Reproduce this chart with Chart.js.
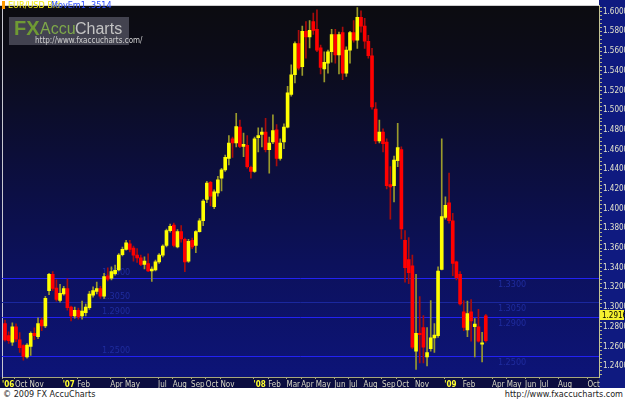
<!DOCTYPE html>
<html><head><meta charset="utf-8">
<script src="https://cdn.jsdelivr.net/npm/chart.js@4.4.1/dist/chart.umd.min.js"></script>
<style>
html,body{margin:0;padding:0;background:#fff;}
#wrap{position:relative;width:625px;height:400px;overflow:hidden;font-family:"Liberation Sans Narrow","DejaVu Sans Condensed","Liberation Sans",Arial,sans-serif;}
#box{position:absolute;left:0;top:0;width:625px;height:388px;}
canvas{display:block;}
.t{position:absolute;white-space:nowrap;line-height:1;}
#mark{position:absolute;left:2px;top:1px;width:3px;height:8px;background:#ff9c00;}
#title{left:8px;top:1px;font-size:9px;color:#f2ea10;}
#mov{left:51px;top:1px;font-size:9px;color:#3050ff;}
#logo{position:absolute;left:9px;top:17px;width:120px;height:28px;background:rgba(78,78,90,0.85);}
#fx{left:5px;top:1px;font-family:"Liberation Sans",Arial,sans-serif;font-weight:bold;font-size:20px;color:#6f9a34;}
#accu{left:31px;top:4px;font-family:"Liberation Sans",Arial,sans-serif;font-size:16px;color:#7ea84a;}
#charts{left:66px;top:4px;font-family:"Liberation Sans",Arial,sans-serif;font-size:16px;color:#c4c4c4;}
#url{left:26px;top:20px;font-size:8px;color:#d0d0d0;}
#foot{position:absolute;left:0;top:388px;width:625px;height:12px;background:#fff;}
#copy{left:3px;top:2px;font-size:9px;color:#222;}
#site{right:2px;top:2px;font-size:9px;color:#222;}
</style></head>
<body>
<div id="wrap">
  <div id="box"><canvas id="c" width="625" height="388"></canvas></div>
  <div id="mark"></div>
  <div class="t" id="title">EUR/USD Bid</div>
  <div class="t" id="mov">MovEm1 .3514</div>
  <div id="logo">
    <div class="t" id="fx">FX</div>
    <div class="t" id="accu">Accu</div>
    <div class="t" id="charts">Charts</div>
    <div class="t" id="url">http://www.fxaccucharts.com/</div>
  </div>
  <div id="foot">
    <div class="t" id="copy">© 2009 FX AccuCharts</div>
    <div class="t" id="site">http://www.fxaccucharts.com</div>
  </div>
</div>
<script>
// ---- data (weekly EUR/USD bid candles, first week starting Monday 2006-09-11) ----
const firstWeek = '2006-09-11';
const openV = [1.2833,1.2710,1.2643,1.2800,1.2667,1.2610,1.2493,1.2600,1.2733,1.2700,1.2867,1.2810,1.3167,1.3333,1.3193,1.3067,1.3133,1.3187,1.3000,1.2910,1.2967,1.2910,1.2943,1.2993,1.3120,1.3160,1.3187,1.3110,1.3317,1.3293,1.3340,1.3377,1.3533,1.3587,1.3643,1.3600,1.3527,1.3500,1.3433,1.3443,1.3367,1.3377,1.3460,1.3527,1.3627,1.3777,1.3833,1.3610,1.3767,1.3687,1.3467,1.3677,1.3627,1.3767,1.3877,1.4093,1.4267,1.4020,1.4160,1.4310,1.4393,1.4510,1.4710,1.4667,1.4827,1.4633,1.4643,1.4420,1.4377,1.4720,1.4753,1.4777,1.4600,1.4677,1.4800,1.4510,1.4677,1.4827,1.5160,1.5360,1.5677,1.5443,1.5800,1.5743,1.5900,1.5820,1.5633,1.5420,1.5477,1.5593,1.5767,1.5560,1.5787,1.5377,1.5610,1.5787,1.5710,1.5943,1.5853,1.5700,1.5553,1.5010,1.4687,1.4777,1.4677,1.4243,1.4233,1.4487,1.4600,1.3677,1.3483,1.3420,1.2553,1.2733,1.2793,1.2493,1.2577,1.2687,1.2710,1.3383,1.3910,1.4060,1.3877,1.3460,1.3333,1.2953,1.2767,1.2953,1.2800,1.2800,1.2623,1.2910];
const highV = [1.2867,1.2750,1.2840,1.2830,1.2740,1.2620,1.2630,1.2750,1.2790,1.2890,1.2890,1.3110,1.3343,1.3360,1.3277,1.3230,1.3210,1.3287,1.3010,1.3000,1.2990,1.3060,1.3030,1.3160,1.3207,1.3253,1.3210,1.3343,1.3400,1.3410,1.3427,1.3543,1.3610,1.3677,1.3677,1.3620,1.3593,1.3527,1.3510,1.3540,1.3410,1.3477,1.3543,1.3633,1.3793,1.3843,1.3853,1.3787,1.3827,1.3700,1.3687,1.3700,1.3777,1.3900,1.4093,1.4277,1.4277,1.4190,1.4327,1.4410,1.4543,1.4743,1.4727,1.4967,1.4900,1.4767,1.4743,1.4433,1.4727,1.4820,1.4820,1.4917,1.4727,1.4953,1.4853,1.4710,1.4860,1.5243,1.5460,1.5693,1.5810,1.5853,1.5900,1.5910,1.5987,1.6020,1.5660,1.5593,1.5610,1.5820,1.5820,1.5793,1.5843,1.5643,1.5800,1.5910,1.6043,1.6010,1.5933,1.5760,1.5627,1.5077,1.4900,1.4810,1.4710,1.4427,1.4533,1.4867,1.4627,1.3777,1.3707,1.3527,1.3333,1.3107,1.2913,1.2793,1.3067,1.2833,1.3410,1.4710,1.4120,1.4360,1.3953,1.3467,1.3360,1.3067,1.3060,1.3077,1.2883,1.2977,1.2743,1.2927];
const lowV = [1.2653,1.2630,1.2610,1.2650,1.2540,1.2460,1.2480,1.2510,1.2670,1.2680,1.2760,1.2790,1.3127,1.3170,1.3060,1.3050,1.3120,1.2970,1.2860,1.2887,1.2877,1.2877,1.2910,1.2977,1.3100,1.3133,1.3087,1.3087,1.3267,1.3277,1.3323,1.3367,1.3520,1.3577,1.3560,1.3467,1.3453,1.3420,1.3387,1.3360,1.3260,1.3367,1.3443,1.3510,1.3610,1.3760,1.3610,1.3600,1.3660,1.3360,1.3453,1.3593,1.3553,1.3760,1.3827,1.4060,1.4027,1.4000,1.4127,1.4180,1.4377,1.4443,1.4520,1.4627,1.4620,1.4527,1.4410,1.4310,1.4367,1.4577,1.4627,1.4577,1.4360,1.4660,1.4433,1.4493,1.4610,1.4820,1.5143,1.5277,1.5410,1.5353,1.5527,1.5633,1.5770,1.5593,1.5367,1.5287,1.5377,1.5487,1.5477,1.5367,1.5310,1.5343,1.5477,1.5690,1.5627,1.5793,1.5627,1.5527,1.5010,1.4660,1.4667,1.4577,1.4200,1.3893,1.4067,1.4427,1.3693,1.3253,1.3237,1.2577,1.2367,1.2433,1.2433,1.2403,1.2553,1.2540,1.2693,1.3377,1.3893,1.3853,1.3320,1.3277,1.3020,1.2760,1.2700,1.2653,1.2493,1.2643,1.2443,1.2643];
const closeV = [1.2667,1.2660,1.2800,1.2673,1.2587,1.2500,1.2613,1.2733,1.2710,1.2833,1.2810,1.3090,1.3333,1.3190,1.3077,1.3140,1.3187,1.2993,1.2910,1.2967,1.2900,1.2960,1.3000,1.3133,1.3167,1.3187,1.3110,1.3310,1.3283,1.3360,1.3373,1.3527,1.3587,1.3653,1.3587,1.3527,1.3500,1.3433,1.3467,1.3367,1.3387,1.3460,1.3527,1.3620,1.3777,1.3820,1.3627,1.3767,1.3693,1.3460,1.3667,1.3610,1.3767,1.3877,1.4077,1.4260,1.4127,1.4170,1.4293,1.4393,1.4520,1.4667,1.4667,1.4833,1.4633,1.4653,1.4427,1.4377,1.4710,1.4743,1.4777,1.4600,1.4667,1.4793,1.4510,1.4667,1.4827,1.5177,1.5360,1.5677,1.5427,1.5800,1.5743,1.5810,1.5810,1.5610,1.5433,1.5487,1.5593,1.5767,1.5560,1.5767,1.5377,1.5610,1.5787,1.5710,1.5943,1.5853,1.5700,1.5553,1.5033,1.4687,1.4777,1.4660,1.4233,1.4220,1.4493,1.4620,1.3793,1.3400,1.3350,1.2593,1.2733,1.2720,1.2593,1.2537,1.2687,1.2717,1.3367,1.3920,1.4033,1.3877,1.3443,1.3300,1.3033,1.2793,1.2933,1.2860,1.2827,1.2653,1.2637,1.2660];
const lastPrice = 1.2916;
const tickLabels = ["'06","Oct","Nov","'07","Feb","Apr","May","Jul","Aug","Sep","Oct","Nov","'08","Feb","Mar","Apr","May","Jun","Jul","Aug","Sep","Oct","Nov","'09","Feb","Apr","May","Jun","Jul","Aug","Oct"];
// week (Monday) in which each labelled period begins
const tickWeekDates = ['2006-09-04','2006-10-02','2006-10-30','2007-01-01','2007-01-29','2007-04-02','2007-04-30','2007-07-02','2007-07-30','2007-09-03','2007-10-01','2007-10-29','2007-12-31','2008-01-28','2008-03-03','2008-03-31','2008-04-28','2008-06-02','2008-06-30','2008-07-28','2008-09-01','2008-09-29','2008-11-03','2008-12-29','2009-02-02','2009-03-30','2009-04-27','2009-06-01','2009-06-29','2009-08-03','2009-09-28'];
const levelValues = [1.3300, 1.3050, 1.2900, 1.2500];
const levelLabels = ['1.3300', '1.3050', '1.2900', '1.2500'];

// ---- derived ----
const DAY = 86400000;
const yMin = 1.229, yMax = 1.606;
const xMin = -0.82, xMax = 161.85;
const t0 = Date.parse(firstWeek + 'T00:00:00Z');
const tickWeeks = tickWeekDates.map(d => Math.max(xMin, Math.round((Date.parse(d + 'T00:00:00Z') - t0) / (7 * DAY)) - 0.3));
const NARROW = '"Liberation Sans Narrow","DejaVu Sans Condensed","Liberation Sans",Arial,sans-serif';

const bodies = openV.map((o, i) => ({x: i, y: [o, closeV[i]]}));
const wicks = lowV.map((l, i) => ({x: i, y: [l, highV[i]]}));
const isUp = i => closeV[i] >= openV[i];
const isYear = i => (tickLabels[i] || '').startsWith("'");

const bgPlugin = {
  id: 'bg',
  beforeDraw(chart) {
    const {ctx, chartArea: a, width, height} = chart;
    ctx.save();
    ctx.fillStyle = '#0f1a80';
    ctx.fillRect(a.right, 0, width - a.right, height);
    ctx.fillStyle = '#0b0d40';
    ctx.fillRect(0, a.bottom, a.right, height - a.bottom);
    const g = ctx.createLinearGradient(0, a.top, 0, a.bottom);
    g.addColorStop(0, '#0c0c10');
    g.addColorStop(0.15, '#0c0c1a');
    g.addColorStop(0.4, '#0c0e38');
    g.addColorStop(0.7, '#0c115c');
    g.addColorStop(1, '#0d1478');
    ctx.fillStyle = g;
    ctx.fillRect(0, a.top, a.right, a.bottom - a.top);
    ctx.restore();
  },
  beforeDatasetsDraw(chart) {
    const {ctx, chartArea: a, scales} = chart;
    const ys = scales.y, xs = scales.x;
    ctx.save();
    levelValues.forEach((v, k) => {
      const y = Math.round(ys.getPixelForValue(v)) + 0.5;
      ctx.strokeStyle = k === 1 ? '#1a279e' : '#2222f4';
      ctx.lineWidth = 1;
      ctx.beginPath(); ctx.moveTo(a.left, y); ctx.lineTo(a.right, y); ctx.stroke();
      ctx.fillStyle = '#1f2c9e';
      ctx.font = '9px ' + NARROW;
      ctx.textAlign = 'left';
      ctx.textBaseline = 'bottom';
      ctx.fillText(levelLabels[k], xs.getPixelForValue(26.4), y - 1);
      ctx.textBaseline = 'top';
      ctx.fillText(levelLabels[k], xs.getPixelForValue(134.3), y + 2);
    });
    ctx.restore();
  },
  afterDraw(chart) {
    const {ctx, chartArea: a, scales} = chart;
    const y = Math.round(scales.y.getPixelForValue(lastPrice));
    ctx.save();
    ctx.fillStyle = '#f4f030';
    ctx.fillRect(a.right + 1, y - 5, 24, 10);
    ctx.fillStyle = '#000';
    ctx.font = '8px ' + NARROW;
    ctx.textAlign = 'left';
    ctx.textBaseline = 'middle';
    ctx.fillText(lastPrice.toFixed(4), a.right + 3, y + 0.5);
    ctx.restore();
  }
};

new Chart(document.getElementById('c'), {
  type: 'bar',
  data: {
    datasets: [
      {
        label: 'body', data: bodies, barThickness: 3, minBarLength: 1, grouped: false, borderWidth: 0,
        backgroundColor: c => isUp(c.dataIndex) ? '#ffff00' : '#ff0000',
        xAxisID: 'x', yAxisID: 'y'
      },
      {
        label: 'wick', data: wicks, barThickness: 1, grouped: false, borderWidth: 0,
        backgroundColor: c => isUp(c.dataIndex) ? '#9a9a2c' : '#a80c0c',
        xAxisID: 'x', yAxisID: 'y'
      }
    ]
  },
  options: {
    responsive: false, animation: false, devicePixelRatio: 1,
    layout: {padding: 0},
    plugins: {legend: {display: false}, tooltip: {enabled: false}},
    scales: {
      x: {
        type: 'linear', min: xMin, max: xMax, offset: false, position: 'bottom',
        afterFit: s => { s.height = 11; },
        afterBuildTicks: s => { s.ticks = tickWeeks.map(v => ({value: v})); },
        ticks: {
          autoSkip: false, maxRotation: 0, minRotation: 0, align: 'start', padding: 1,
          callback: (v, i) => tickLabels[i],
          color: c => isYear(c.index) ? '#ffff30' : '#d8d8c4',
          font: c => ({family: NARROW, size: 8, weight: isYear(c.index) ? 'bold' : 'normal'})
        },
        grid: {drawOnChartArea: false, offset: false, tickLength: 2, color: '#a8a878'},
        border: {color: '#a8a878'}
      },
      y: {
        type: 'linear', position: 'right', min: yMin, max: yMax,
        afterFit: s => { s.width = 26; },
        afterBuildTicks: s => {
          const t = [];
          for (let k = Math.ceil(yMin / 0.004); k <= Math.floor(yMax / 0.004); k++) t.push({value: k * 0.004});
          s.ticks = t;
        },
        ticks: {
          autoSkip: false, padding: 1, color: '#e4e4cc',
          font: {family: NARROW, size: 8},
          callback: v => (Math.round(v * 1000) % 20 === 0 ? v.toFixed(4) : '')
        },
        grid: {drawOnChartArea: false, tickLength: 3, color: '#b4b488'},
        border: {color: '#c4c494'}
      },
      yl: {
        type: 'linear', position: 'left', min: yMin, max: yMax,
        afterFit: s => { s.width = 2; },
        ticks: {display: false},
        grid: {display: true, drawOnChartArea: false, drawTicks: false},
        border: {display: true, color: '#c8c8d0', dash: [1, 2], width: 1}
      }
    }
  },
  plugins: [bgPlugin]
});
</script>
</body></html>
